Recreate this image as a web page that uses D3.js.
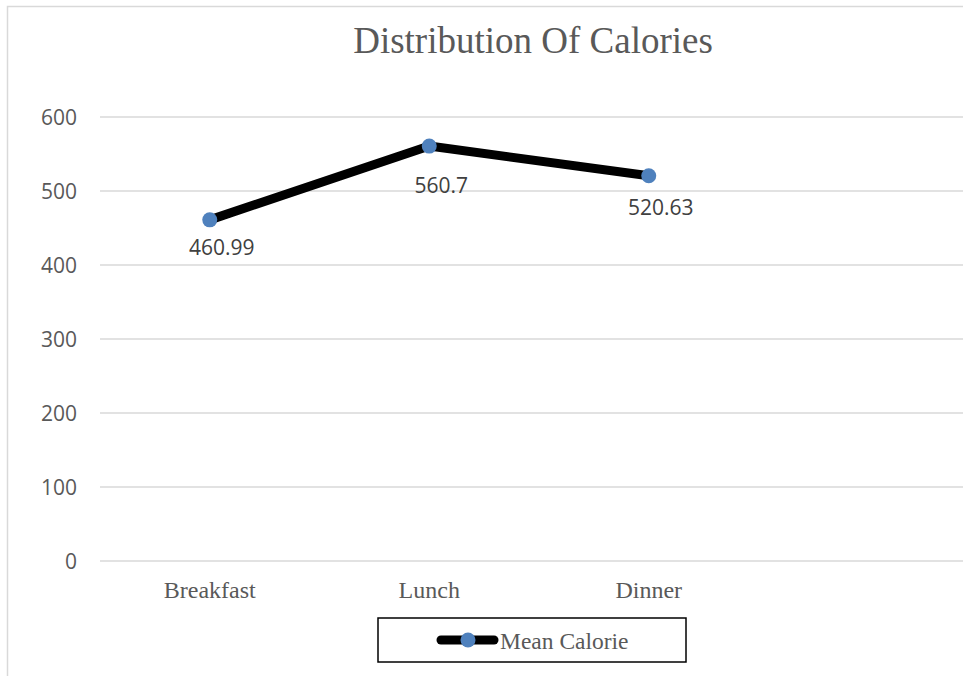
<!DOCTYPE html>
<html>
<head>
<meta charset="utf-8">
<script src="https://cdn.jsdelivr.net/npm/d3@7"></script>
<style>
  html, body { margin: 0; padding: 0; background: #fff; }
  svg { display: block; }
</style>
</head>
<body>
<svg id="chart" width="963" height="676"></svg>
<script>
// ---- data ----
const categories = ["Breakfast", "Lunch", "Dinner"];
const meanCalorie = [460.99, 560.7, 520.63];
const valueLabels = ["460.99", "560.7", "520.63"];
const yTicks = [0, 100, 200, 300, 400, 500, 600];
const seriesName = "Mean Calorie";
const chartTitle = "Distribution Of Calories";

// ---- layout ----
const slotCount = 4; // axis has one empty trailing slot
const labelDy = [35, 47, 39];
const labelDx = 12;

const svg = d3.select("#chart");
const W = 963, H = 676;

// outer chart border
svg.append("rect")
  .attr("x", 7.5).attr("y", 6.5)
  .attr("width", 1200).attr("height", 900)
  .attr("fill", "#fff")
  .attr("stroke", "#d9d9d9").attr("stroke-width", 1.5);

const slots = categories.concat(d3.range(slotCount - categories.length).map(i => "__empty" + i));
const x = d3.scaleBand().domain(slots).range([100, 978]).paddingInner(0).paddingOuter(0);
const y = d3.scaleLinear().domain([0, 600]).range([561, 117]);

// gridlines
svg.append("g").selectAll("line").data(yTicks).join("line")
  .attr("x1", 100).attr("x2", 1000)
  .attr("y1", d => y(d)).attr("y2", d => y(d))
  .attr("stroke", "#d9d9d9").attr("stroke-width", 1.5);

// y axis labels
svg.append("g").selectAll("text").data(yTicks).join("text")
  .attr("x", 77).attr("y", d => y(d))
  .attr("text-anchor", "end")
  .attr("dominant-baseline", "central")
  .attr("font-family", "'Open Sans', sans-serif")
  .attr("font-size", 21)
  .attr("fill", "#595959")
  .text(d => d);

// x axis labels
svg.append("g").selectAll("text").data(categories).join("text")
  .attr("x", d => x(d) + x.bandwidth() / 2)
  .attr("y", 598)
  .attr("text-anchor", "middle")
  .attr("font-family", "'Liberation Serif', 'Times New Roman', serif")
  .attr("font-size", 24)
  .attr("fill", "#595959")
  .text(d => d);

// line
const pts = categories.map((c, i) => [x(c) + x.bandwidth() / 2, y(meanCalorie[i])]);
svg.append("path")
  .attr("d", d3.line()(pts))
  .attr("fill", "none")
  .attr("stroke", "#000")
  .attr("stroke-width", 9)
  .attr("stroke-linejoin", "round")
  .attr("stroke-linecap", "round");

// markers
svg.append("g").selectAll("circle").data(pts).join("circle")
  .attr("cx", d => d[0]).attr("cy", d => d[1])
  .attr("r", 7.5)
  .attr("fill", "#4f81bd");

// data labels
svg.append("g").selectAll("text").data(pts).join("text")
  .attr("x", d => d[0] + labelDx)
  .attr("y", (d, i) => d[1] + labelDy[i])
  .attr("text-anchor", "middle")
  .attr("font-family", "'Open Sans', sans-serif")
  .attr("font-size", 21)
  .attr("fill", "#404040")
  .text((d, i) => valueLabels[i]);

// title
svg.append("text")
  .attr("x", 533).attr("y", 53)
  .attr("text-anchor", "middle")
  .attr("font-family", "'Liberation Serif', 'Times New Roman', serif")
  .attr("font-size", 37)
  .attr("fill", "#595959")
  .text(chartTitle);

// legend
const lg = svg.append("g");
lg.append("rect")
  .attr("x", 378).attr("y", 618)
  .attr("width", 308).attr("height", 44)
  .attr("fill", "#fff")
  .attr("stroke", "#000").attr("stroke-width", 1.5);
lg.append("line")
  .attr("x1", 441).attr("x2", 494)
  .attr("y1", 640).attr("y2", 640)
  .attr("stroke", "#000").attr("stroke-width", 9)
  .attr("stroke-linecap", "round");
lg.append("circle")
  .attr("cx", 468).attr("cy", 640).attr("r", 7.5)
  .attr("fill", "#4f81bd");
lg.append("text")
  .attr("x", 500).attr("y", 649)
  .attr("font-family", "'Liberation Serif', 'Times New Roman', serif")
  .attr("font-size", 23.5)
  .attr("fill", "#595959")
  .text(seriesName);
</script>
</body>
</html>
